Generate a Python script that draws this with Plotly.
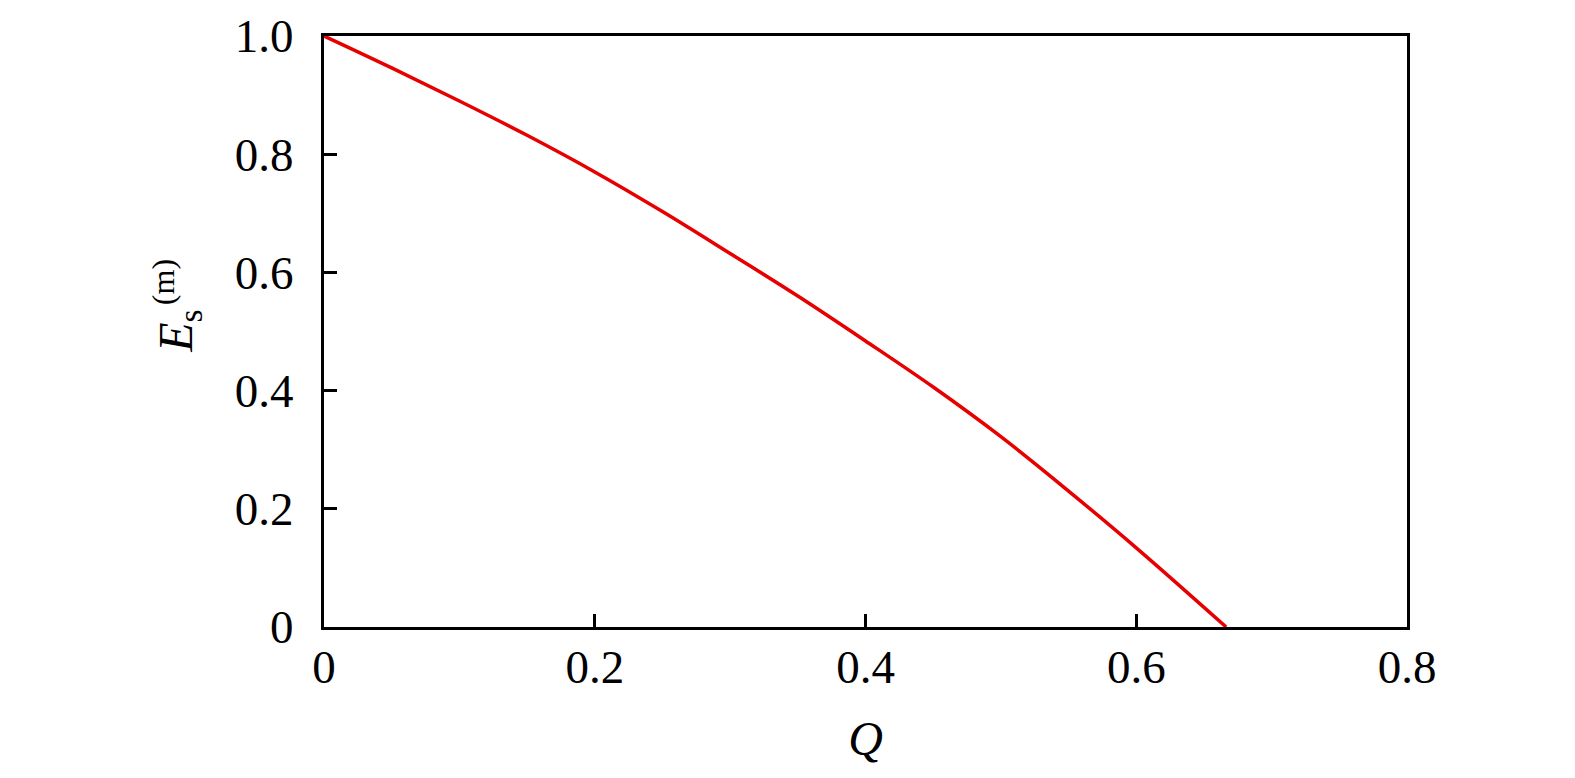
import plotly.graph_objects as go

# Data
Q = [0.0, 0.05, 0.1, 0.15, 0.2, 0.25, 0.3, 0.35, 0.4, 0.45, 0.5, 0.55, 0.6, 0.6664]
E = [1.0, 0.946, 0.890, 0.832, 0.770, 0.703, 0.632, 0.560, 0.484, 0.406, 0.322, 0.230, 0.134, 0.0]

x_tickvals = [0, 0.2, 0.4, 0.6, 0.8]
x_ticktext = ["0", "0.2", "0.4", "0.6", "0.8"]
y_tickvals = [0, 0.2, 0.4, 0.6, 0.8, 1.0]
y_ticktext = ["0", "0.2", "0.4", "0.6", "0.8", "1.0"]

FONT = "Liberation Serif"

fig = go.Figure()
fig.add_trace(go.Scatter(x=Q, y=E, mode="lines",
                         line=dict(color="#e60000", width=3.5, shape="spline", smoothing=1.0),
                         showlegend=False))

axis_common = dict(showgrid=False, zeroline=False, showline=True, linecolor="black", linewidth=3,
                   mirror=True, ticks="inside", ticklen=13, tickwidth=2.5, tickcolor="black",
                   tickfont=dict(family=FONT, size=47, color="black"))

# page body has an 8px default margin, so the figure is offset by 8px
fig.update_layout(
    width=1567, height=770,
    paper_bgcolor="white", plot_bgcolor="white",
    margin=dict(l=316, r=168, t=28, b=151, autoexpand=False),
    xaxis=dict(range=[0, 0.8], tickvals=x_tickvals, ticktext=x_ticktext, ticklabelstandoff=-3,
               title=dict(text="<i>Q</i>", font=dict(family=FONT, size=48, color="black"), standoff=29),
               **axis_common),
    yaxis=dict(range=[0, 1.0], tickvals=y_tickvals, ticktext=y_ticktext, ticklabelstandoff=18,
               **axis_common),
    annotations=[
        dict(text="<i>E</i><sub>s</sub>", textangle=-90, xref="paper", yref="paper",
             x=-0.1345, y=0.50, xanchor="center", yanchor="middle", showarrow=False,
             font=dict(family=FONT, size=48, color="black")),
        dict(text="(m)", textangle=-90, xref="paper", yref="paper",
             x=-0.148, y=0.583, xanchor="center", yanchor="middle", showarrow=False,
             font=dict(family=FONT, size=32, color="black")),
    ],
)

fig.write_html("out.html")
